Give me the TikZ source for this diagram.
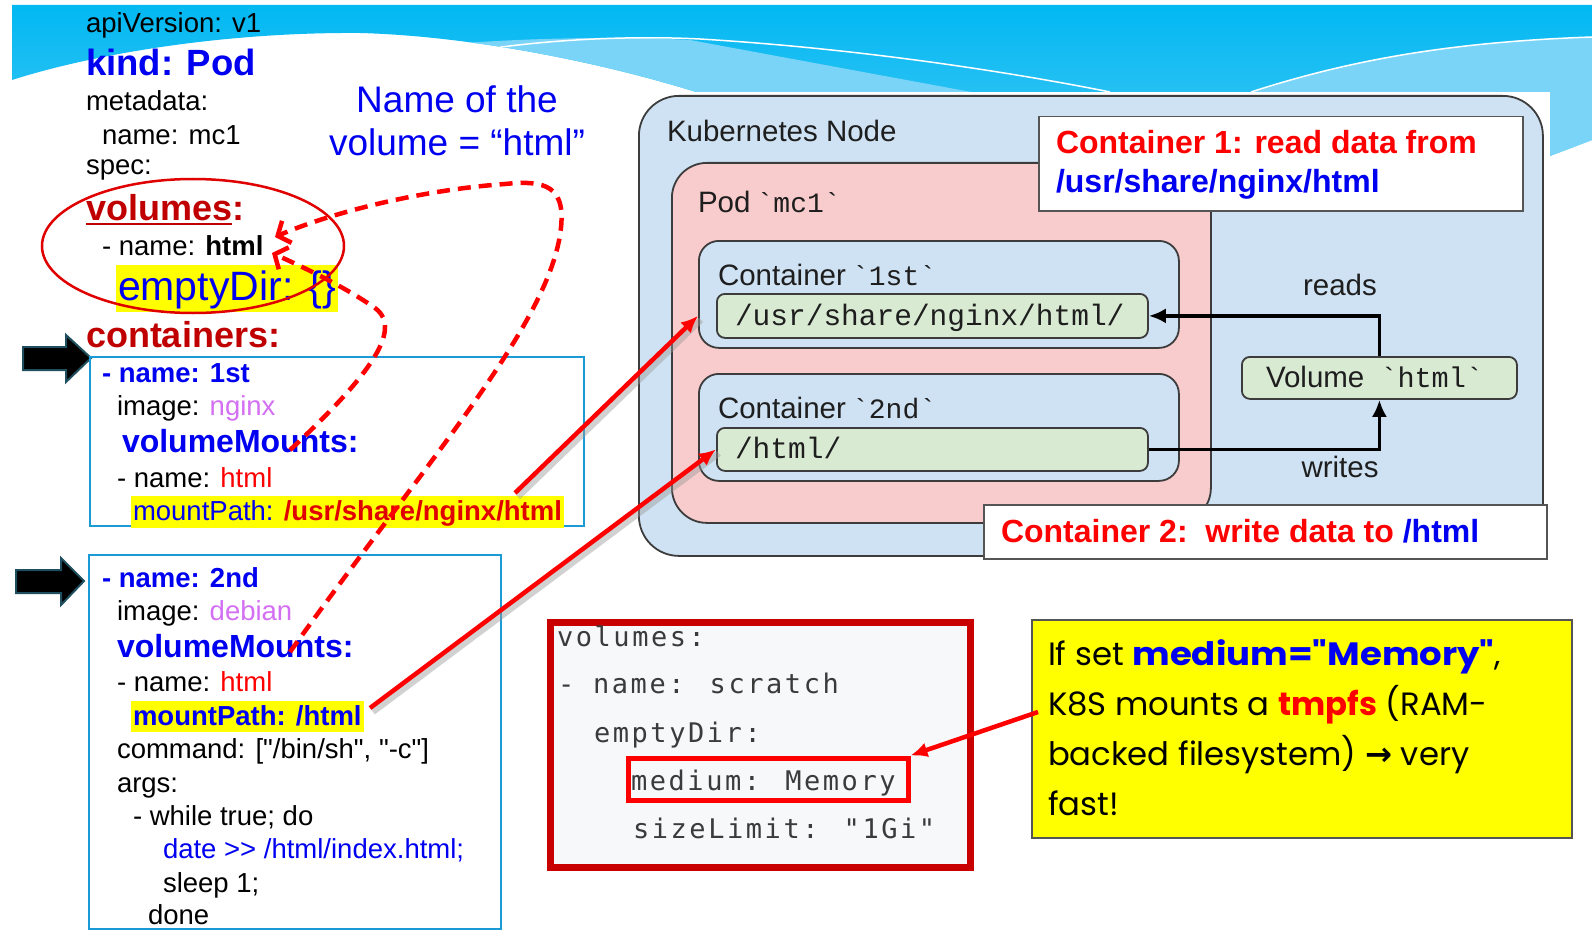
\documentclass[tikz,border=0pt]{standalone}
\usepackage{fontspec}
\usepackage{graphicx}
\setmainfont{Liberation Sans}
\newfontfamily\arial{Liberation Sans}
\newfontfamily\lmono{Liberation Mono}
\newfontfamily\cmono{DejaVu Sans Mono}[LetterSpace=9.5]
\newfontfamily\gothic{Poppins}
\newfontfamily\dvs{DejaVu Sans}
\usetikzlibrary{arrows.meta}
\newcommand{\fs}[1]{\fontsize{#1}{#1}\selectfont}
\definecolor{waveTop}{HTML}{00B8F2}
\definecolor{waveBot}{HTML}{40C6F4}
\definecolor{waveLight}{HTML}{7AD4F8}
\definecolor{kblue}{HTML}{0000F0}
\definecolor{dred}{HTML}{C00000}
\definecolor{bred}{HTML}{FF0000}
\definecolor{ered}{HTML}{E00000}
\definecolor{violet2}{HTML}{D36FF2}
\definecolor{hiyel}{HTML}{FFFF00}
\definecolor{boxblue}{HTML}{1B9AD6}
\definecolor{k8sblue}{HTML}{CFE2F3}
\definecolor{podpink}{HTML}{F8CBCC}
\definecolor{pathgreen}{HTML}{D9EAD3}
\definecolor{codegray}{HTML}{F6F8FA}
\definecolor{codetext}{HTML}{3B3B3B}
\definecolor{edgegray}{HTML}{3C3C3C}
\definecolor{ktext}{HTML}{1E1E1E}
\definecolor{arrowedge}{HTML}{1F4E5F}
\definecolor{cred}{HTML}{C80000}
\definecolor{labgray}{HTML}{555555}
\tikzset{
  t/.style={inner sep=0pt, outer sep=0pt, anchor=base west},
  y27/.style={t, font=\fs{27.5}},
  ybold/.style={t, font=\fs{27.5}\bfseries, text=kblue},
  vmount/.style={t, font=\fs{32}\bfseries, text=kblue},
  hdr/.style={t, font=\fs{36}\bfseries, text=dred},
  hilite/.style={fill=hiyel, inner xsep=2pt, inner ysep=0pt},
  blk/.style={anchor=north west, inner sep=0pt},
  kbox/.style={blk, draw=edgegray, line width=1.8pt},
  ktxt/.style={t, font=\fs{29.5}, text=ktext},
  ptxt/.style={t, font=\lmono\fs{29.5}, text=ktext},
  labbox/.style={blk, draw=labgray, line width=1.5pt, fill=white},
  codetxt/.style={t, font=\cmono\fs{27}, text=codetext},
  ytxt/.style={t, font=\gothic\fs{32.3}, text=black},
  karrow/.style={draw=black, line width=3.5pt, -{Latex[length=17pt,width=15pt]}},
  redarrow/.style={draw=bred, line width=4.5pt, -{Latex[length=17pt,width=15pt]}},
  shad/.style={draw=black!40, opacity=0.45, line width=6pt, transform canvas={xshift=3pt,yshift=-4pt}},
  dasharr/.style={draw=bred, line width=4.5pt, dash pattern=on 13pt off 8pt, -{Straight Barb[length=10pt,width=24pt]}},
  blockarrow/.style={fill=black, draw=arrowedge, line width=2pt, line join=miter},
}
\begin{document}
\begin{tikzpicture}[x=1pt,y=-1pt]
\useasboundingbox (0,0) rectangle (1592,936);
\fill[white] (0,0) rectangle (1592,936);

% ---------- wave background ----------
\begin{scope}
\path[clip] (12,5) -- (1592,5) -- (1592,140) -- (1550,156) -- (1550,92) -- (696,92)
  .. controls (600,62) and (470,36) .. (360,33) .. controls (220,32) and (90,55) .. (12,80) -- cycle;
\shade[top color=waveTop, bottom color=waveBot] (0,0) rectangle (1592,160);
\fill[waveLight] (440,45) .. controls (520,38) and (620,36) .. (690,40) -- (982,94) -- (600,94) -- cycle;
\fill[waveLight] (1251,92) .. controls (1350,60) and (1450,42) .. (1592,37) -- (1592,200) -- (1251,200) -- cycle;
\draw[white, line width=1.5pt] (480,50) .. controls (560,38) and (640,36) .. (700,39)
  .. controls (850,48) and (1000,70) .. (1110,92);
\draw[white, line width=1.5pt] (1251,92) .. controls (1350,60) and (1450,42) .. (1592,37);
\end{scope}

% ---------- left YAML ----------
\node[y27] (api) at (86,33) {apiVersion: v1};
\node[t, font=\fs{36.5}\bfseries, text=kblue] (kind) at (86,76) {kind: Pod};
\node[y27] (meta) at (86,111) {metadata:};
\node[y27] (mname) at (102,145) {name: mc1};
\node[y27] (spec) at (86,175) {spec:};
\node[hdr] (volw) at (86,220) {volumes};
\node[hdr] (volc) at (volw.base east) {:};
\draw[dred, line width=2pt] ([yshift=-4pt]volw.base west) -- ([yshift=-4pt]volw.base east);
\node[y27] (vname) at (102,255) {- name: \textbf{html}};
\node[t, hilite, font=\fs{41}, text=kblue, text height=35pt, text depth=12pt] (empty) at (116,300) {emptyDir: \{\}};
\draw[ered, line width=2.5pt] (193,246) ellipse [x radius=151pt, y radius=67pt];
\node[hdr] (conts) at (86,347) {containers:};

\node[t, anchor=base, font=\fs{37}, text=kblue] (nm1) at (457,113) {Name of the};
\node[t, anchor=base, font=\fs{37}, text=kblue] (nm2) at (457,156) {volume = “html”};

% block arrows
\path[blockarrow] (23,347) -- (66,347) -- (66,335) -- (91,358) -- (66,382) -- (66,370) -- (23,370) -- cycle;
\path[blockarrow] (16,570) -- (61,570) -- (61,558) -- (84,581) -- (61,605) -- (61,593) -- (16,593) -- cycle;

% container 1 box
\node[blk, draw=boxblue, line width=2.2pt, minimum width=494pt, minimum height=169pt] (box1) at (89,356) {};
\node[ybold] (b1n) at (102,382) {- name: 1st};
\node[y27] (b1i) at (117,415) {image: \textcolor{violet2}{nginx}};
\node[vmount] (b1v) at (122,452) {volumeMounts:};
\node[y27] (b1h) at (117,487) {- name: \textcolor{bred}{html}};
\node[y27, hilite, text height=24pt, text depth=8pt] (b1m) at (131,520) {\textcolor{kblue}{mountPath:} \textcolor{ered}{\bfseries /usr/share/nginx/html}};

% container 2 box
\node[blk, draw=boxblue, line width=2.2pt, minimum width=412pt, minimum height=374pt] (box2) at (88,554) {};
\node[ybold] (b2n) at (102,587) {- name: 2nd};
\node[y27] (b2i) at (117,620) {image: \textcolor{violet2}{debian}};
\node[vmount] (b2v) at (117,657) {volumeMounts:};
\node[y27] (b2h) at (117,691) {- name: \textcolor{bred}{html}};
\node[ybold, hilite, text height=24pt, text depth=7pt] (b2m) at (131,725) {mountPath: /html};
\node[y27, font=\arial\fs{27.5}] (b2c) at (117,758) {command: ["/bin/sh", "-c"]};
\node[y27] (b2a) at (117,792) {args:};
\node[y27] (b2w) at (133,825) {- while true; do};
\node[y27, font=\arial\fs{27.5}, text=kblue] (b2d) at (163,858) {date >> /html/index.html;};
\node[y27] (b2s) at (163,892) {sleep 1;};
\node[y27] (b2o) at (148,924) {done};

% ---------- Kubernetes node ----------
\node[kbox, fill=k8sblue, rounded corners=40pt, minimum width=904pt, minimum height=460pt] (knode) at (638,95) {};
\node[kbox, fill=podpink, rounded corners=35pt, minimum width=539pt, minimum height=360pt] (pod) at (671,162) {};
\node[kbox, fill=k8sblue, rounded corners=20pt, minimum width=480pt, minimum height=107pt] (cont1) at (698,240) {};
\node[kbox, fill=k8sblue, rounded corners=20pt, minimum width=480pt, minimum height=107pt] (cont2) at (698,373) {};
\node[kbox, fill=pathgreen, rounded corners=8pt, minimum width=431pt, minimum height=44pt] (path1) at (716,293) {};
\node[kbox, fill=pathgreen, rounded corners=8pt, minimum width=431pt, minimum height=43pt] (path2) at (716,427) {};
\node[kbox, fill=pathgreen, rounded corners=8pt, minimum width=275pt, minimum height=42pt] (vol) at (1241,356) {};

\node[ktxt] (kn) at (667,142) {Kubernetes Node};
\node[ktxt] (podt) at (698,212) {Pod\hspace{-2pt} {\lmono\fs{28}`mc1`}};
\node[ktxt] (c1t) at (718,285) {Container\hspace{-2pt} {\lmono\fs{28}`1st`}};
\node[ptxt] (p1t) at (735,325) {/usr/share/nginx/html/};
\node[ktxt] (c2t) at (718,418) {Container\hspace{-2pt} {\lmono\fs{28}`2nd`}};
\node[ptxt] (p2t) at (735,458) {/html/};
\node[ktxt, anchor=base] (rd) at (1340,295) {reads};
\node[ktxt, anchor=base] (wr) at (1340,477) {writes};
\node[ktxt] (volt) at (1266,387) {Volume\hspace{16pt}{\lmono\fs{28.5}`html`}};

\draw[karrow] (vol.north) |- (path1.east);
\draw[karrow] (path2.east) -| (vol.south);

\node[labbox, minimum width=484pt, minimum height=94pt] (lab1) at (1038,116) {};
\node[t, font=\fs{32}\bfseries, text=bred] (lab1a) at (1056,154) {Container 1: read data from};
\node[t, font=\fs{32}\bfseries, text=kblue] (lab1b) at (1056,193) {/usr/share/nginx/html};
\node[labbox, minimum width=563pt, minimum height=54pt] (lab2) at (983,504) {};
\node[t, font=\fs{32}\bfseries, text=bred] (lab2a) at (1001,542) {Container 2:\ \ write data to \textcolor{kblue}{/html}};

% ---------- code box ----------
\node[blk, draw=cred, line width=7pt, fill=codegray, minimum width=420pt, minimum height=245pt] (code) at (546.5,618.5) {};
\node[blk, draw=bred, line width=5pt, minimum width=280pt, minimum height=42pt] (memo) at (625.5,755.5) {};
\node[codetxt] (cl1) at (557,646) {volumes:};
\node[codetxt] (cl2) at (558,693) {- name: scratch};
\node[codetxt] (cl3) at (594,742) {emptyDir:};
\node[codetxt] (cl4) at (631,790) {medium: Memory};
\node[codetxt] (cl5) at (633,838) {sizeLimit: "1Gi"};

% ---------- yellow note ----------
\node[blk, draw=labgray, line width=1.5pt, fill=hiyel, minimum width=540pt, minimum height=218pt] (ybox) at (1031,619) {};
\node[ytxt] (yl1) at (1048,665) {If set \textcolor{kblue}{\scalebox{1.1}[1]{\bfseries medium="Memory"}},};
\node[ytxt] (yl2) at (1048,715) {K8S mounts a \textcolor{bred}{\bfseries tmpfs} (RAM-};
\node[ytxt] (yl3) at (1048,765) {backed filesystem) {\dvs\bfseries →} very};
\node[ytxt] (yl4) at (1048,815) {fast!};

% ---------- connectors ----------
\coordinate (m1s) at (515,493);
\coordinate (m2s) at (370,708);
\coordinate (ys) at (1038,712);
\coordinate (da1) at (290,652);
\coordinate (da2) at (275,237);
\coordinate (db1) at (290,450);
\coordinate (db2) at (272,253);

\draw[shad] (m1s) -- (cont1.west |- path1.west);
\draw[shad] (m2s) -- (path2.west);
\draw[redarrow] (m1s) -- (cont1.west |- path1.west);
\draw[redarrow] (m2s) -- (path2.west);
\draw[redarrow] (ys) -- (memo.north east);

\draw[dasharr] (da1) .. controls (420,470) and (545,330) .. (560,235)
  .. controls (568,185) and (545,180) .. (505,184)
  .. controls (420,190) and (330,213) .. (da2);
\draw[dasharr] (db1) .. controls (365,380) and (405,330) .. (375,308)
  .. controls (345,287) and (305,268) .. (db2);
\end{tikzpicture}
\end{document}
